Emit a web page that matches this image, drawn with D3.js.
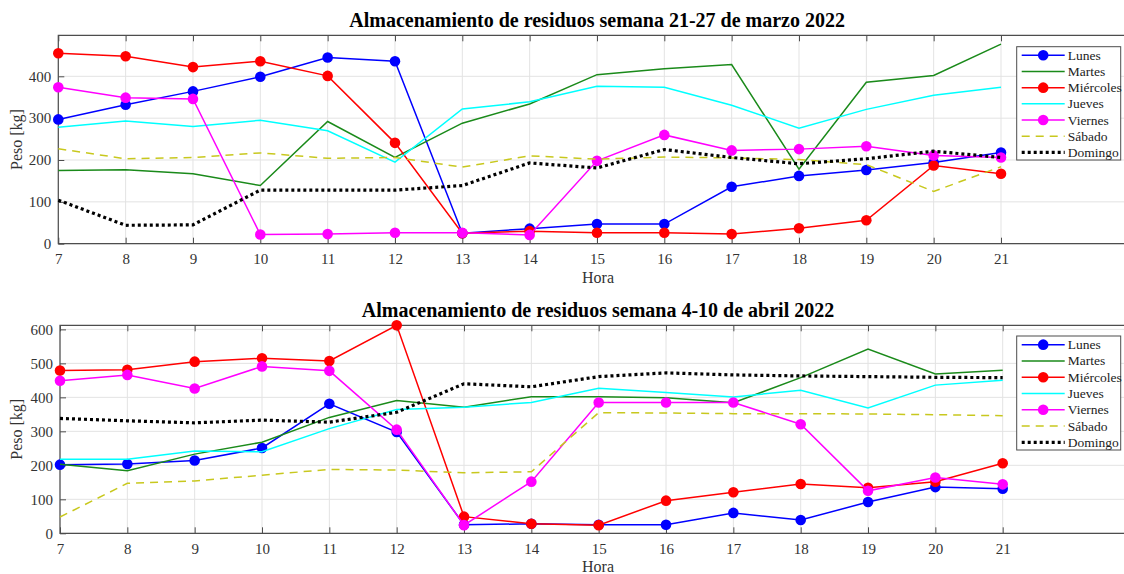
<!DOCTYPE html>
<html><head><meta charset="utf-8">
<script src="https://cdn.jsdelivr.net/npm/d3@7"></script>
<style>body{margin:0;background:#fff}svg{display:block}text{font-family:"Liberation Serif","Times New Roman",serif}</style>
</head><body><svg id="c" width="1124" height="574"></svg>
<script>
const hours = [7,8,9,10,11,12,13,14,15,16,17,18,19,20,21];
const seriesNames = ["Lunes","Martes","Miércoles","Jueves","Viernes","Sábado","Domingo"];
const titles = ["Almacenamiento de residuos semana 21-27 de marzo 2022","Almacenamiento de residuos semana 4-10 de abril 2022"];
const yTicks1 = [0,100,200,300,400];
const yTicks2 = [0,100,200,300,400,500,600];

// Week 1 (21-27 marzo)
const lunes1     = [297,332,364,399,445,436,25,36,47,47,136,162,176,194,218];
const martes1    = [175,177,167,139,292,206,288,334,404,418,428,178,386,402,477];
const miercoles1 = [455,448,422,436,401,241,25,30,26,26,23,37,56,187,167];
const jueves1    = [278,293,280,295,270,195,322,339,376,374,331,276,321,355,374];
const viernes1   = [374,349,346,22,23,26,26,21,198,260,223,226,233,211,206];
const sabado1    = [227,203,206,217,204,206,183,210,202,207,205,201,189,125,184];
const domingo1   = [104,44,45,128,128,128,139,193,181,225,206,191,203,221,206];

// Week 2 (4-10 abril)
const lunes2     = [202,204,214,251,381,298,25,28,25,25,60,39,92,136,131];
const martes2    = [203,184,233,268,341,391,371,402,402,399,384,458,542,469,480];
const miercoles2 = [479,481,505,515,507,612,49,28,24,96,121,145,134,152,206];
const jueves2    = [218,218,242,240,308,364,371,385,427,414,401,421,369,436,450];
const viernes2   = [449,466,426,491,478,305,24,152,385,385,385,321,125,164,144];
const sabado2    = [48,147,154,171,188,186,178,181,355,354,352,352,351,349,346];
const domingo2   = [338,331,325,333,327,356,440,431,461,472,466,463,461,459,458];

const styles = [
  {color:"#0000ff", w:1.5, marker:true},
  {color:"#1a8a1a", w:1.5, marker:false},
  {color:"#ff0000", w:1.5, marker:true},
  {color:"#00ffff", w:1.5, marker:false},
  {color:"#ff00ff", w:1.5, marker:true},
  {color:"#c8c81e", w:1.5, marker:false, dash:"8,6"},
  {color:"#000000", w:3.2, marker:false, dash:"3,3"}
];

const svg = d3.select("#c");
const font = '"Liberation Serif","Times New Roman",serif';

function panel(cfg){
  const {top,bottom,left,right,ymax,yTicks,data,title,legTop,legBottom} = cfg;
  const g = svg.append("g");
  const x = d3.scaleLinear().domain([7,21]).range([left, left + (1001-58.3)]);
  const y = d3.scaleLinear().domain([0,ymax]).range([bottom, top]);
  // grid
  g.append("g").selectAll("line.gx").data(hours).join("line")
    .attr("x1",d=>x(d)).attr("x2",d=>x(d)).attr("y1",top).attr("y2",bottom)
    .attr("stroke","#e3e3e3").attr("stroke-width",1);
  g.append("g").selectAll("line.gy").data(yTicks).join("line")
    .attr("x1",left).attr("x2",right).attr("y1",d=>y(d)).attr("y2",d=>y(d))
    .attr("stroke","#e3e3e3").attr("stroke-width",1);
  // axes
  const xAxisB = d3.axisBottom(x).tickValues(hours).tickSize(-6).tickPadding(10).tickFormat(d3.format("d"));
  const gx = g.append("g").attr("transform",`translate(0,${bottom})`).call(xAxisB);
  const gxt = g.append("g").attr("transform",`translate(0,${top})`).call(d3.axisTop(x).tickValues(hours).tickSize(-6).tickFormat(""));
  const gy = g.append("g").attr("transform",`translate(${left},0)`).call(d3.axisLeft(y).tickValues(yTicks).tickSize(-6).tickPadding(7));
  [gx,gxt,gy].forEach(a=>{
    a.attr("font-family",font);
    a.select(".domain").remove();
    a.selectAll(".tick line").attr("stroke","#4d4d4d");
    a.selectAll("text").attr("font-family",font).attr("font-size",15).attr("fill","#333");
  });
  // box
  g.append("path").attr("d",`M${right},${top}H${left}V${bottom}H${right}`)
    .attr("fill","none").attr("stroke","#4d4d4d").attr("stroke-width",1.2);
  // lines
  const line = d3.line().x((d,i)=>x(hours[i])).y(d=>y(d));
  data.forEach((vals,k)=>{
    const s = styles[k];
    g.append("path").datum(vals).attr("d",line).attr("fill","none")
      .attr("stroke",s.color).attr("stroke-width",s.w)
      .attr("stroke-dasharray",s.dash||null);
    if(s.marker){
      g.append("g").selectAll("circle").data(vals).join("circle")
        .attr("cx",(d,i)=>x(hours[i])).attr("cy",d=>y(d)).attr("r",5.3).attr("fill",s.color);
    }
  });
  // title
  const cx = (left + 1136)/2;
  g.append("text").attr("x",cx).attr("y",top-8).attr("text-anchor","middle")
    .attr("font-family",font).attr("font-weight","bold").attr("font-size",20).text(title);
  g.append("text").attr("x",598).attr("y",bottom+39).attr("text-anchor","middle")
    .attr("font-family",font).attr("font-size",16).attr("fill","#333").text("Hora");
  g.append("text").attr("transform",`translate(22,${(top+bottom)/2}) rotate(-90)`).attr("text-anchor","middle")
    .attr("font-family",font).attr("font-size",16).attr("fill","#333").text("Peso [kg]");
  // legend
  const lx = 1016.7, lw = 104, lh = legBottom-legTop, rh = lh/7;
  const lg = g.append("g");
  lg.append("rect").attr("x",lx).attr("y",legTop).attr("width",lw).attr("height",lh)
    .attr("fill","#fff").attr("stroke","#4d4d4d").attr("stroke-width",1);
  seriesNames.forEach((n,k)=>{
    const s = styles[k];
    const yy = legTop + rh*(k+0.5) + 0.5;
    lg.append("line").attr("x1",lx+5).attr("x2",lx+48).attr("y1",yy).attr("y2",yy)
      .attr("stroke",s.color).attr("stroke-width",s.w).attr("stroke-dasharray",s.dash||null);
    if(s.marker) lg.append("circle").attr("cx",lx+26.5).attr("cy",yy).attr("r",5.3).attr("fill",s.color);
    lg.append("text").attr("x",lx+51).attr("y",yy+4.5).attr("font-family",font).attr("font-size",13.5)
      .attr("fill","#222").text(n);
  });
}

panel({top:35.3,bottom:243.7,left:58.3,right:1135,ymax:498,yTicks:yTicks1,
  data:[lunes1,martes1,miercoles1,jueves1,viernes1,sabado1,domingo1],title:titles[0],legTop:46.7,legBottom:160});
panel({top:325.3,bottom:533.3,left:60,right:1135,ymax:612,yTicks:yTicks2,
  data:[lunes2,martes2,miercoles2,jueves2,viernes2,sabado2,domingo2],title:titles[1],legTop:336,legBottom:450});
</script></body></html>
